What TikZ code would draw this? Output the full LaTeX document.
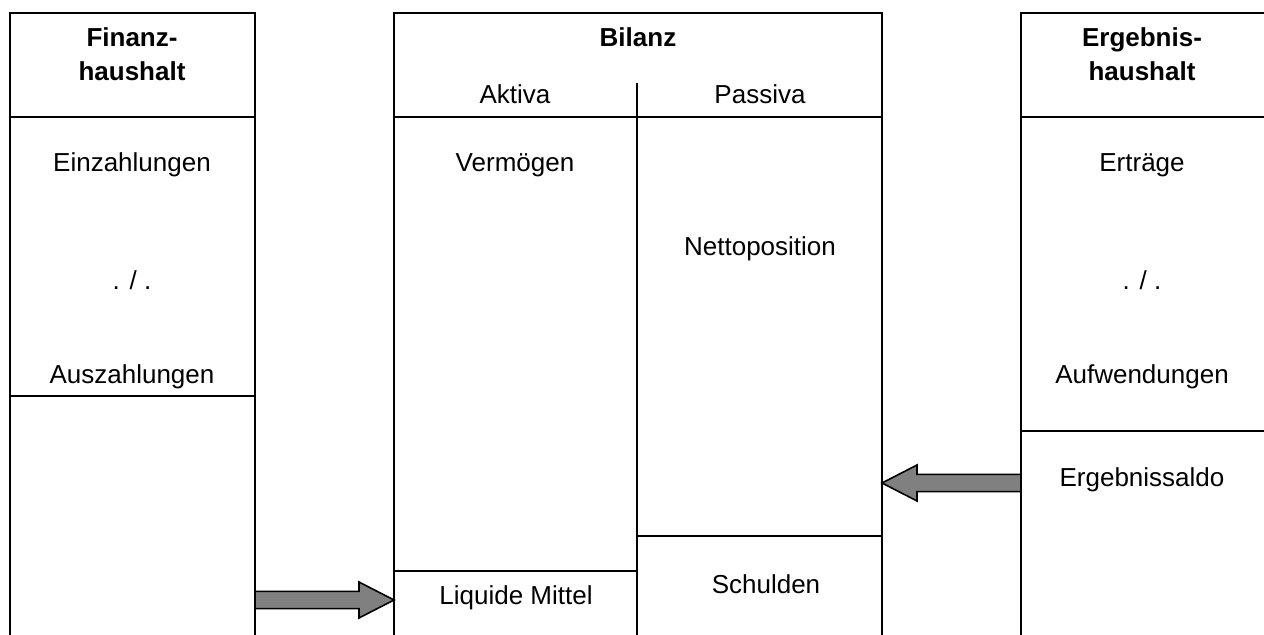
\documentclass[tikz,border=0pt]{standalone}
\usepackage{fontspec}
\setmainfont{Liberation Sans}
\usetikzlibrary{calc}

\newcommand{\fatarrow}[2]{%
  \path (#2) coordinate (tip) ($(#2)!17.5pt!(#1)$) coordinate (neck);
  \filldraw[fatarrow] ($(#1)!4.3pt!90:(#2)$) -- ($(neck)!4.3pt!-90:(#1)$)
    -- ($(neck)!9pt!-90:(#1)$) -- (tip) -- ($(neck)!9pt!90:(#1)$)
    -- ($(neck)!4.3pt!90:(#1)$) -- ($(#1)!4.3pt!-90:(#2)$) -- cycle;}

\begin{document}
\begin{tikzpicture}[x=0.5pt,y=-0.5pt,line width=0.8pt,
    txt/.style={anchor=base,inner sep=0pt,font=\fontsize{13}{17}\selectfont},
    head/.style={txt,align=center,font=\fontsize{13}{17}\selectfont\bfseries},
    fatarrow/.style={fill=black!50,draw=black,line width=0.8pt,line join=miter}]
  \useasboundingbox (0,0) rectangle (1264,635);
  % Finanzhaushalt
  \draw (10,635) -- (10,13) -- (255,13) -- (255,635);
  \draw (10,117) -- (255,117);
  \draw (10,396) -- (255,396);
  \node[head] (fin-head) at (132,81) {Finanz-\\haushalt};
  \node[txt] (fin-ein) at (132,172) {Einzahlungen};
  \node[txt] (fin-minus) at (132,290) {. / .};
  \node[txt] (fin-aus) at (132,384) {Auszahlungen};
  \coordinate (fin-out) at (255,600);
  % Bilanz
  \draw (394,635) -- (394,13) -- (882,13) -- (882,635);
  \draw (394,117) -- (882,117);
  \draw (637,83) -- (637,635);
  \draw (394,571) -- (637,571);
  \draw (637,536) -- (882,536);
  \node[head] (bil-head) at (638,47) {Bilanz};
  \node[txt] (bil-akt) at (515,104) {Aktiva};
  \node[txt] (bil-pas) at (760,104) {Passiva};
  \node[txt] (bil-verm) at (515,172) {Vermögen};
  \node[txt] (bil-netto) at (760,256) {Nettoposition};
  \node[txt] (bil-liq) at (516,605) {Liquide Mittel};
  \node[txt] (bil-schuld) at (766,594) {Schulden};
  \coordinate (bil-liq-in) at (394,600);
  \coordinate (bil-pas-in) at (882,483);
  % Ergebnishaushalt
  \draw (1264,13) -- (1021,13) -- (1021,635);
  \draw (1021,117) -- (1264,117);
  \draw (1021,431) -- (1264,431);
  \node[head] (erg-head) at (1142,81) {Ergebnis-\\haushalt};
  \node[txt] (erg-ertr) at (1142,172) {Erträge};
  \node[txt] (erg-minus) at (1142,290) {. / .};
  \node[txt] (erg-aufw) at (1142,384) {Aufwendungen};
  \node[txt] (erg-saldo) at (1142,487) {Ergebnissaldo};
  \coordinate (erg-out) at (1021,483);
  % Pfeile
  \fatarrow{fin-out}{bil-liq-in}
  \fatarrow{erg-out}{bil-pas-in}
\end{tikzpicture}
\end{document}
